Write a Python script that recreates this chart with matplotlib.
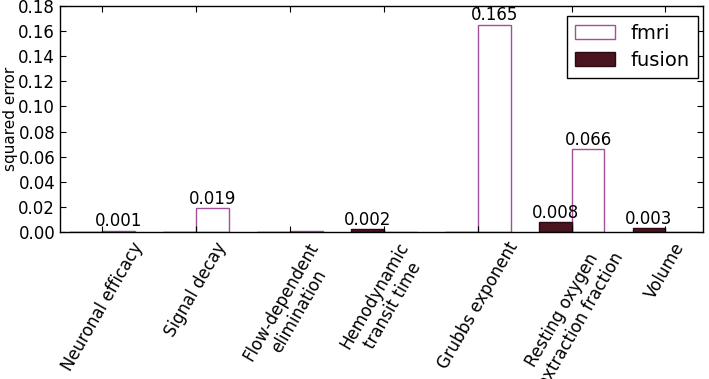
import numpy as np
import matplotlib
matplotlib.use("Agg")
import matplotlib.pyplot as plt

# ------------------------------------------------------------------
# Data
# ------------------------------------------------------------------
categories = [
    "Neuronal efficacy",
    "Signal decay",
    "Flow-dependent\nelimination",
    "Hemodynamic\ntransit time",
    "Grubbs exponent",
    "Resting oxygen\nextraction fraction",
    "Volume",
]
fmri_err = [0.0011, 0.019, 0.0004, 0.0, 0.165, 0.066, 0.0003]
fusion_err = [0.0001, 0.0, 0.0, 0.002, 0.0003, 0.008, 0.003]

plt.rcParams.update({
    "font.size": 12,
    "xtick.direction": "in",
    "ytick.direction": "in",
    "xtick.top": True,
    "ytick.right": True,
    "xtick.major.size": 4,
    "ytick.major.size": 4,
    "axes.linewidth": 1.0,
})

fmri_edge = "#a3509b"
fusion_face = "#4b1520"

fig = plt.figure(figsize=(7.09, 3.79), dpi=100)
ax = fig.add_axes([60 / 709, 1 - 232 / 379, (703 - 60) / 709, (232 - 6) / 379])

ind = np.arange(len(categories))
width = 0.35

b_fmri = ax.bar(ind, fmri_err, width, align="edge", facecolor="white",
                edgecolor=fmri_edge, linewidth=1.0, label="fmri")
b_fusion = ax.bar(ind - width, fusion_err, width, align="edge",
                  facecolor=fusion_face, edgecolor="#2a0a10", linewidth=1.0,
                  label="fusion")

# value labels for bars that round to a non-zero value
for bars in (b_fmri, b_fusion):
    for rect in bars:
        h = rect.get_height()
        if round(h, 3) > 0:
            ax.text(rect.get_x() + rect.get_width() / 2.0, h + 0.0003,
                    f"{h:.3f}", ha="center", va="bottom", fontsize=12)

ax.set_xlim(-0.45, 6.4)
ax.set_ylim(0, 0.18)
yt = np.arange(0, 0.181, 0.02)
ax.set_yticks(yt)
ax.set_yticklabels([f"{v:.2f}" for v in yt])
ax.set_xticks(ind)
ax.set_xticklabels(categories, rotation=60, ha="center", va="top",
                   multialignment="center")
ax.tick_params(axis="x", pad=5)
ax.set_ylabel("squared error", fontsize=11)
ax.yaxis.set_label_coords(-0.066, 0.5)

leg = ax.legend(loc="upper right", fancybox=False, framealpha=1,
                edgecolor="black", fontsize=14, handlelength=2.1,
                handleheight=0.72, borderpad=0.4, labelspacing=0.4,
                handletextpad=0.8, bbox_to_anchor=(0.992, 0.955),
                borderaxespad=0.0)
leg.get_frame().set_linewidth(1.0)

fig.savefig("out.png", dpi=100)
